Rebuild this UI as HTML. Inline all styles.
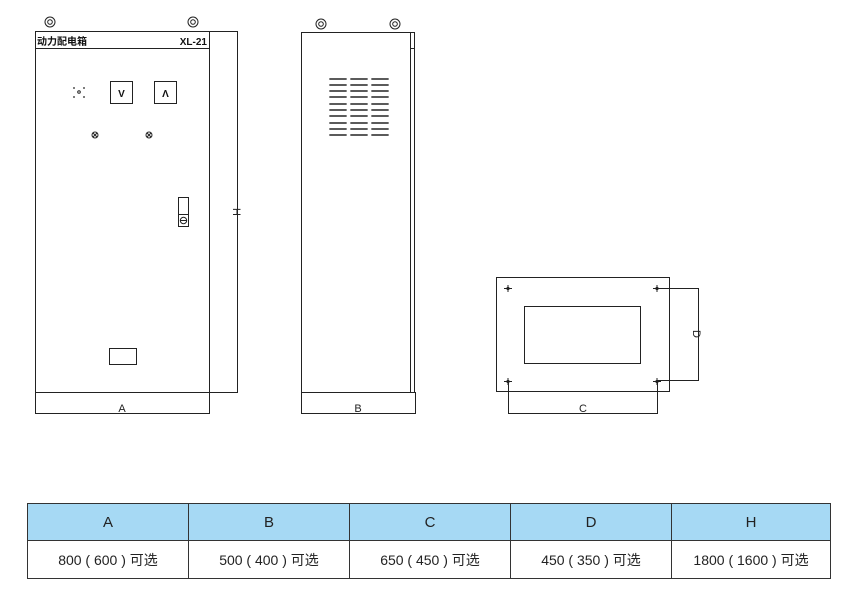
<!DOCTYPE html>
<html><head><meta charset="utf-8"><style>
body{margin:0;background:#fff;width:845px;height:597px;overflow:hidden;position:relative;font-family:"Liberation Sans","Noto Sans CJK SC",sans-serif}
svg{position:absolute;left:0;top:0}
table{position:absolute;left:27px;top:503px;border-collapse:collapse;width:804px}
td{border:1px solid #333;text-align:center;font-size:14px;color:#222;padding:0}
tr.h td{background:#a6d9f4;height:36px;font-size:15px}
tr.r td{height:37px}
</style></head><body>
<svg width="845" height="597" viewBox="0 0 845 597" fill="none" stroke="#222" stroke-width="1">
<circle cx="50" cy="22" r="5"/><circle cx="50" cy="22" r="2.3"/>
<circle cx="193" cy="22" r="5"/><circle cx="193" cy="22" r="2.3"/>
<rect x="35.5" y="31.5" width="174" height="361"/>
<line x1="35" y1="48.5" x2="209" y2="48.5"/>
<text x="37" y="45" font-size="10" font-weight="bold" fill="#111" stroke="none" font-family="Noto Sans CJK SC,sans-serif">动力配电箱</text>
<text x="207" y="45" font-size="10" font-weight="bold" fill="#111" stroke="none" text-anchor="end" font-family="Liberation Sans Narrow,Liberation Sans,sans-serif">XL-21</text>
<g fill="#222" stroke="none"><circle cx="74" cy="88" r="0.9"/><circle cx="84" cy="88" r="0.9"/><circle cx="74" cy="97" r="0.9"/><circle cx="84" cy="97" r="0.9"/></g>
<circle cx="79" cy="92" r="1.3"/>
<rect x="110.5" y="81.5" width="22" height="22"/>
<rect x="154.5" y="81.5" width="22" height="22"/>
<text x="121.5" y="97" font-size="10" font-weight="bold" fill="#111" stroke="none" text-anchor="middle">V</text>
<text x="165.5" y="97" font-size="10" font-weight="bold" fill="#111" stroke="none" text-anchor="middle">Λ</text>
<circle cx="95" cy="135" r="3"/><path d="M93 133l4 4M97 133l-4 4"/>
<circle cx="149" cy="135" r="3"/><path d="M147 133l4 4M151 133l-4 4"/>
<rect x="178.5" y="197.5" width="10" height="29"/><line x1="178" y1="214.5" x2="188" y2="214.5"/>
<circle cx="183.5" cy="220.5" r="3.2"/><line x1="180.5" y1="220.5" x2="186.5" y2="220.5"/>
<rect x="109.5" y="348.5" width="27" height="16"/>
<path d="M209 31.5H237.5V392.5H209"/>
<text x="233" y="212" font-size="11" fill="#222" stroke="none" transform="rotate(90 233 212)" text-anchor="middle">H</text>
<path d="M35.5 392V413.5H209.5V392"/>
<text x="122" y="412" font-size="11" fill="#222" stroke="none" text-anchor="middle">A</text>
<circle cx="321" cy="24" r="5"/><circle cx="321" cy="24" r="2.3"/>
<circle cx="395" cy="24" r="5"/><circle cx="395" cy="24" r="2.3"/>
<rect x="301.5" y="32.5" width="113" height="360"/>
<line x1="410.5" y1="32" x2="410.5" y2="392"/>
<line x1="410" y1="48.5" x2="415" y2="48.5"/>
<g stroke-width="1.8" stroke-linecap="round" stroke="#444">
<path d="M330 79h16M351 79h16M372 79h16M330 85h16M351 85h16M372 85h16M330 91h16M351 91h16M372 91h16M330 97h16M351 97h16M372 97h16M330 104h16M351 104h16M372 104h16M330 110h16M351 110h16M372 110h16M330 116h16M351 116h16M372 116h16M330 123h16M351 123h16M372 123h16M330 129h16M351 129h16M372 129h16M330 135h16M351 135h16M372 135h16"/>
</g>
<path d="M301.5 392V413.5H415.5V392"/>
<text x="358" y="412" font-size="11" fill="#222" stroke="none" text-anchor="middle">B</text>
<rect x="496.5" y="277.5" width="173" height="114"/>
<rect x="524.5" y="306.5" width="116" height="57"/>
<g><path d="M504 288.5h8M508 285v7M653 288.5h8M657 285v7M504 381.5h8M508 378v7M653 381.5h8M657 378v7"/>
<g fill="#222" stroke="none"><circle cx="508" cy="288.5" r="1.6"/><circle cx="657" cy="288.5" r="1.6"/><circle cx="508" cy="381.5" r="1.6"/><circle cx="657" cy="381.5" r="1.6"/></g></g>
<path d="M657 288.5H698.5V380.5H657"/>
<text x="693" y="334" font-size="11" fill="#222" stroke="none" transform="rotate(90 693 334)" text-anchor="middle">D</text>
<path d="M508.5 382V413.5H657.5V382"/>
<text x="583" y="412" font-size="11" fill="#222" stroke="none" text-anchor="middle">C</text>
</svg>
<table>
<tr class="h"><td style="width:160px">A</td><td style="width:160px">B</td><td style="width:160px">C</td><td style="width:160px">D</td><td>H</td></tr>
<tr class="r"><td>800 ( 600 ) 可选</td><td>500 ( 400 ) 可选</td><td>650 ( 450 ) 可选</td><td>450 ( 350 ) 可选</td><td>1800 ( 1600 ) 可选</td></tr>
</table>
</body></html>
